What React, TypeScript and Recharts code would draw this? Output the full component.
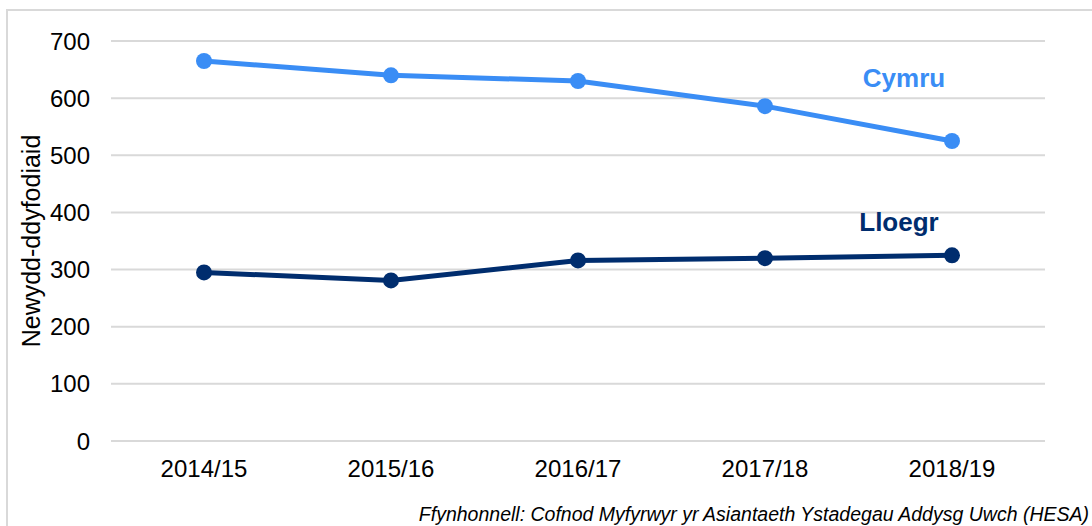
import React from 'react';
import {
  LineChart,
  Line,
  XAxis,
  YAxis,
  CartesianGrid,
  ReferenceDot
} from 'recharts';

const years = ['2014/15', '2015/16', '2016/17', '2017/18', '2018/19'];
const cymru = [665, 640, 630, 586, 525];
const lloegr = [295, 281, 316, 320, 325];
const yTicks = [0, 100, 200, 300, 400, 500, 600, 700];

const BLUE = '#3a8df5';
const NAVY = '#002d6e';
const GRID = '#d9d9d9';
const FONT = '"Liberation Sans", Arial, sans-serif';

export default function App() {
  const data = years.map((year, i) => ({ year, cymru: cymru[i], lloegr: lloegr[i] }));

  return (
    <div
      style={{
        position: 'absolute',
        left: 0,
        top: 0,
        width: 1092,
        height: 526,
        overflow: 'hidden',
        background: '#fff',
        fontFamily: FONT
      }}
    >
      {/* chart frame, cut off on right and bottom */}
      <div
        style={{
          position: 'absolute',
          left: 6,
          top: 9,
          width: 1200,
          height: 600,
          border: `2px solid ${GRID}`
        }}
      />
      <LineChart
        width={1092}
        height={526}
        data={data}
        margin={{ top: 41, right: 47, left: 0, bottom: 55 }}
        style={{ position: 'absolute', left: 0, top: 0, fontFamily: FONT }}
      >
        <CartesianGrid vertical={false} stroke={GRID} strokeWidth={2} />
        <XAxis
          dataKey="year"
          axisLine={false}
          tickLine={false}
          tickSize={0}
          tickMargin={19}
          padding={{ left: 93, right: 93 }}
          tick={{ fontSize: 24, fill: '#000' }}
          interval={0}
        />
        <YAxis
          domain={[0, 700]}
          ticks={yTicks}
          width={111}
          axisLine={false}
          tickLine={false}
          tickSize={0}
          tickMargin={21}
          tick={{ fontSize: 24, fill: '#000' }}
          label={{
            value: 'Newydd-ddyfodiaid',
            angle: -90,
            position: 'center',
            dx: -24,
            style: { fontSize: 25, fill: '#000', textAnchor: 'middle' }
          }}
        />
        <Line
          dataKey="cymru"
          stroke={BLUE}
          strokeWidth={5}
          dot={{ r: 8, fill: BLUE, stroke: 'none' }}
          activeDot={false}
          isAnimationActive={false}
        />
        <Line
          dataKey="lloegr"
          stroke={NAVY}
          strokeWidth={5}
          dot={{ r: 8, fill: NAVY, stroke: 'none' }}
          activeDot={false}
          isAnimationActive={false}
        />
        <ReferenceDot
          x="2018/19"
          y={635}
          r={0}
          ifOverflow="visible"
          label={{ value: 'Cymru', position: 'center', dx: -48, fill: BLUE, fontSize: 26, fontWeight: 'bold' }}
        />
        <ReferenceDot
          x="2018/19"
          y={383}
          r={0}
          ifOverflow="visible"
          label={{ value: 'Lloegr', position: 'center', dx: -53, fill: NAVY, fontSize: 26, fontWeight: 'bold' }}
        />
      </LineChart>
      <div
        style={{
          position: 'absolute',
          right: 3,
          top: 502,
          fontSize: 19.5,
          lineHeight: '24px',
          fontStyle: 'italic',
          color: '#000',
          whiteSpace: 'nowrap'
        }}
      >
        Ffynhonnell: Cofnod Myfyrwyr yr Asiantaeth Ystadegau Addysg Uwch (HESA)
      </div>
    </div>
  );
}
